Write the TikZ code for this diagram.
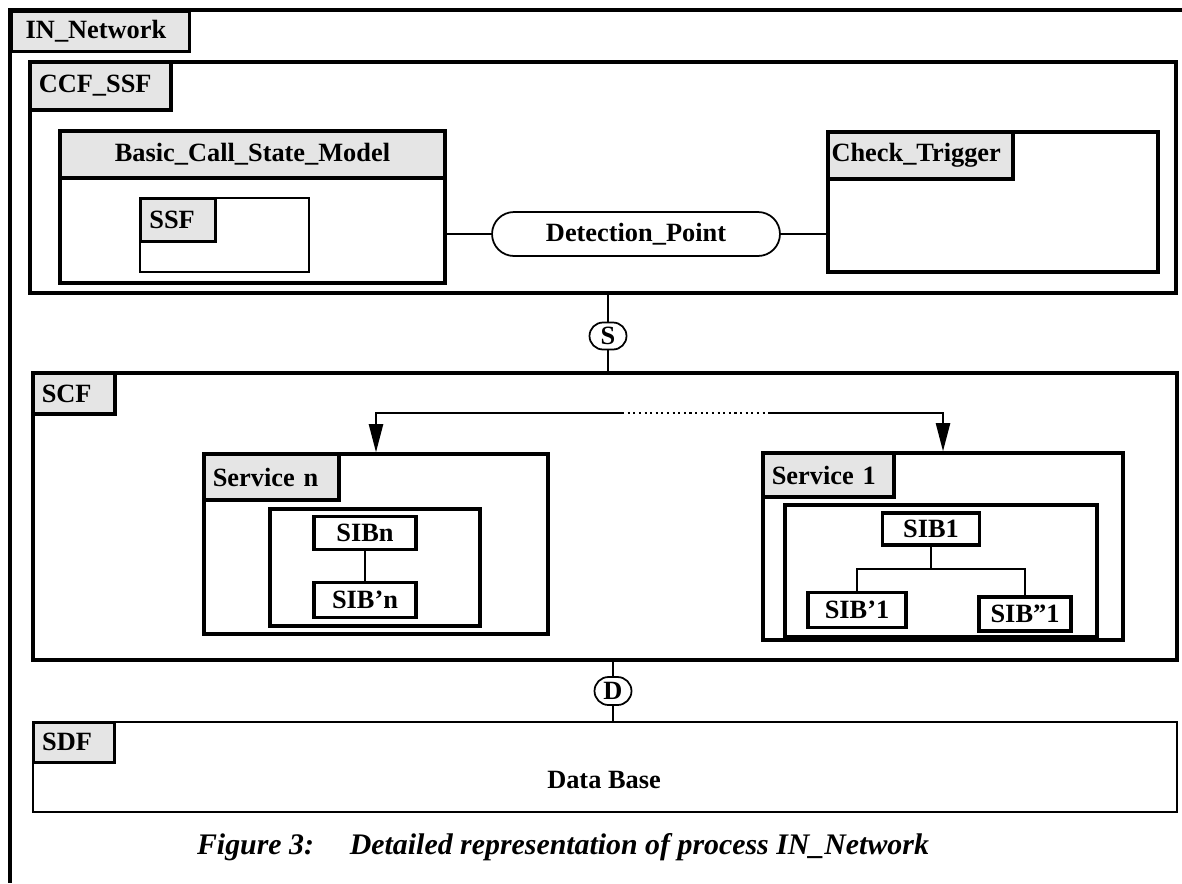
\documentclass[tikz,border=0pt]{standalone}
\usepackage{fontspec}
\setmainfont{Liberation Serif}
\usepackage{tikz}
\usetikzlibrary{arrows.meta, positioning, fit, shapes.misc}

\definecolor{tagfill}{gray}{0.9}

\tikzset{
  frame/.style={draw, line width=1.9pt, inner sep=0pt},
  tag/.style={draw, line width=1.9pt, fill=tagfill, anchor=north west,
    inner xsep=5pt, inner ysep=0pt, align=left},
  head/.style={draw, line width=1.9pt, fill=tagfill, anchor=north west, inner sep=0pt},
  sib/.style={draw, line width=1.9pt, inner sep=0pt},
  port/.style={draw, rounded rectangle, line width=1pt, inner sep=0pt},
  wire/.style={line width=1.2pt},
}

\begin{document}
\begin{tikzpicture}[x=0.02cm, y=-0.02cm,
    font=\fontsize{15}{17}\selectfont\bfseries,
    >={Triangle[length=16pt,width=8pt]}]
  \useasboundingbox (0,0) rectangle (1182,883);

  % outer process frame, open to the right and bottom
  \draw[line width=2pt] (1182,10) -- (10,10) -- (10,883);
  \node[tag, inner xsep=8pt, minimum height=0.8cm, text width=3.0cm] (innet) at (10,10) {IN\_Network};

  % CCF_SSF block
  \node[frame, fit={(30,62) (1176,293)}] (ccf) {};
  \node[tag, minimum height=0.96cm, text width=2.47cm] (ccftag) at (ccf.north west) {CCF\_SSF};

  \node[frame, fit={(60,131) (445,283)}] (bcsm) {};
  \node[head, minimum width=7.7cm, minimum height=0.94cm] (bcsmhead) at (bcsm.north west) {Basic\_Call\_State\_Model};
  \node[frame, line width=1.2pt, fit={(140,198) (309,272)}] (ssfbox) {};
  \node[tag, minimum height=0.86cm, text width=1.15cm] (ssftag) at (ssfbox.north west) {SSF};

  \node[frame, fit={(828,132) (1158,272)}] (trig) {};
  \node[tag, inner xsep=2pt, minimum height=0.94cm, text width=3.56cm] (trigtag) at (trig.north west) {Check\_Trigger};

  \node[port, minimum width=5.76cm, minimum height=0.88cm] (dp) at (636,234) {Detection\_Point};
  \draw[wire] (dp.west) -- (dp.west -| bcsm.east);
  \draw[wire] (dp.east) -- (dp.east -| trig.west);

  % S interface
  \node[port, minimum width=0.74cm, minimum height=0.54cm] (sport) at (608,336) {S};

  % SCF block
  \node[frame, fit={(33,373) (1177,660)}] (scf) {};
  \node[tag, minimum height=0.82cm, text width=1.29cm] (scftag) at (scf.north west) {SCF};
  \draw[wire] (sport.north) -- (sport.north |- ccf.south);
  \draw[wire] (sport.south) -- (sport.south |- scf.north);

  \node[frame, fit={(204,454) (548,634)}] (svcn) {};
  \node[tag, minimum height=0.92cm, text width=2.35cm] (svcntag) at (svcn.north west) {Service n};
  \node[frame, fit={(270,509) (480,626)}] (svcnin) {};
  \node[sib, minimum width=2.04cm, minimum height=0.66cm] (sibn) at (365,533) {SIBn};
  \node[sib, minimum width=2.04cm, minimum height=0.7cm] (sibpn) at (365,600) {SIB'n};
  \draw[wire] (sibn) -- (sibpn);

  \node[frame, fit={(763,453) (1123,640)}] (svc1) {};
  \node[tag, minimum height=0.88cm, text width=2.27cm] (svc1tag) at (svc1.north west) {Service 1};
  \node[frame, fit={(785,505) (1097,637)}] (svc1in) {};
  \node[sib, minimum width=1.94cm, minimum height=0.64cm] (sib1) at (931,529) {SIB1};
  \node[sib, minimum width=1.96cm, minimum height=0.7cm] (sibp1) at (857,610) {SIB'1};
  \node[sib, minimum width=1.84cm, minimum height=0.68cm] (sibpp1) at (1025,614) {SIB''1};
  \coordinate (split) at (931,569);
  \draw[wire] (sib1.south) -- (split);
  \draw[wire] (sibp1.north) |- (split) -| (sibpp1.north);

  % dispatch to the services
  \coordinate (fanl) at (376,413);
  \coordinate (fanr) at (943,413);
  \coordinate (gapl) at (622,413);
  \coordinate (gapr) at (769,413);
  \draw[wire, ->] (gapl) -- (fanl) -- (fanl |- svcn.north);
  \draw[wire, dotted] (gapl) -- (gapr);
  \draw[wire, ->] (gapr) -- (fanr) -- (fanr |- svc1.north);

  % D interface and SDF block
  \node[port, minimum width=0.74cm, minimum height=0.56cm] (dport) at (613,691) {D};
  \node[frame, line width=1.5pt, fit={(33,722) (1177,812)}] (sdf) {};
  \node[tag, minimum height=0.8cm, text width=1.27cm] (sdftag) at (sdf.north west) {SDF};
  \node (dbase) at (604,780) {Data Base};
  \draw[wire] (dport.north) -- (dport.north |- scf.south);
  \draw[wire] (dport.south) -- (dport.south |- sdf.north);

  \node[font=\fontsize{17}{20}\selectfont\bfseries\itshape] (caption) at (563,847)
    {Figure 3:\hspace{1.2em}Detailed representation of process IN\_Network};
\end{tikzpicture}
\end{document}
